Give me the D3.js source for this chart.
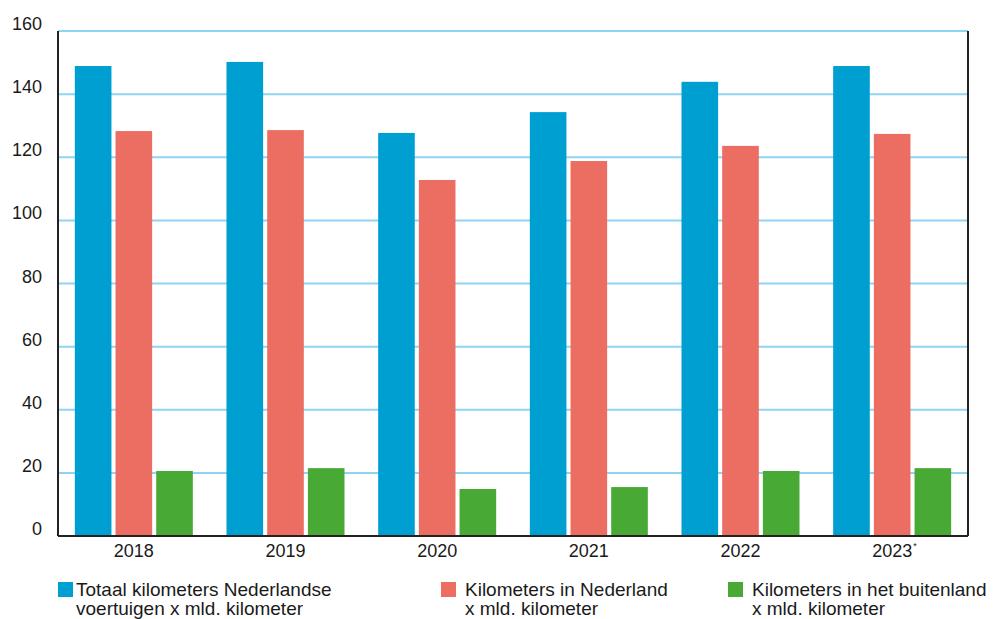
<!DOCTYPE html>
<html>
<head>
<meta charset="utf-8">
<script src="https://cdn.jsdelivr.net/npm/d3@7"></script>
<style>
  body { margin: 0; background: #fff; }
  text { font-family: "Liberation Sans", Arial, sans-serif; fill: #1a1a1a; }
</style>
</head>
<body>
<div id="chartDiv"></div>
<script>
// data
var years = ["2018", "2019", "2020", "2021", "2022", "2023"];
var totaal = [148.9, 150.2, 127.7, 134.3, 143.9, 148.9];
var inNederland = [128.3, 128.6, 112.8, 118.8, 123.6, 127.4];
var buitenland = [20.6, 21.5, 14.9, 15.5, 20.6, 21.5];
var yTicks = [0, 20, 40, 60, 80, 100, 120, 140, 160];
var seriesNames = ["totaal", "nl", "buiten"];
var legendLines = [
    ["Totaal kilometers Nederlandse", "voertuigen x mld. kilometer"],
    ["Kilometers in Nederland", "x mld. kilometer"],
    ["Kilometers in het buitenland", "x mld. kilometer"]
];

var width = 1000, height = 619;
var margin = {top: 31, right: 32, bottom: 83, left: 58};
var colors = {totaal: "#009fd1", nl: "#ec6d61", buiten: "#48aa35"};

var svg = d3.select("#chartDiv").append("svg")
    .attr("width", width)
    .attr("height", height);

var x0 = d3.scaleBand()
    .domain(years)
    .range([margin.left, width - margin.right]);

var groupWidth = 118;
var x1 = d3.scaleBand()
    .domain(seriesNames)
    .range([0, groupWidth])
    .paddingInner(0.1);

var y = d3.scaleLinear()
    .domain([0, 160])
    .range([height - margin.bottom, margin.top]);

// gridlines
svg.append("g")
    .selectAll("line")
    .data(yTicks.filter(d => d > 0))
    .enter().append("line")
    .attr("x1", margin.left)
    .attr("x2", width - margin.right)
    .attr("y1", d => y(d))
    .attr("y2", d => y(d))
    .attr("stroke", "#8fd4f3")
    .attr("stroke-width", 2);

// bars
var rows = years.map((yr, i) => ({year: yr, values: [
    {key: "totaal", value: totaal[i]},
    {key: "nl", value: inNederland[i]},
    {key: "buiten", value: buitenland[i]}
]}));

var groups = svg.append("g")
    .selectAll("g")
    .data(rows)
    .enter().append("g")
    .attr("transform", d => `translate(${x0(d.year) + (x0.bandwidth() - groupWidth) / 2},0)`);

groups.selectAll("rect")
    .data(d => d.values)
    .enter().append("rect")
    .attr("x", d => x1(d.key))
    .attr("width", x1.bandwidth())
    .attr("y", d => y(d.value))
    .attr("height", d => y(0) - y(d.value))
    .attr("fill", d => colors[d.key]);

// frame lines
svg.append("line")
    .attr("x1", margin.left).attr("x2", margin.left)
    .attr("y1", margin.top).attr("y2", y(0))
    .attr("stroke", "#222").attr("stroke-width", 2);
svg.append("line")
    .attr("x1", width - margin.right).attr("x2", width - margin.right)
    .attr("y1", margin.top).attr("y2", y(0))
    .attr("stroke", "#222").attr("stroke-width", 2);
svg.append("line")
    .attr("x1", margin.left).attr("x2", width - margin.right)
    .attr("y1", y(0)).attr("y2", y(0))
    .attr("stroke", "#222").attr("stroke-width", 2);

// y tick labels
svg.append("g")
    .selectAll("text")
    .data(yTicks)
    .enter().append("text")
    .attr("x", 42)
    .attr("y", d => y(d) - 1)
    .style("text-anchor", "end")
    .style("font-size", "18px")
    .text(d => d);

// x labels
var xl = svg.append("g")
    .selectAll("text")
    .data(years)
    .enter().append("text")
    .attr("x", d => x0(d) + x0.bandwidth() / 2)
    .attr("y", 557)
    .style("text-anchor", "middle")
    .style("font-size", "18px")
    .text(d => d);

// asterisk after 2023 (voorlopig)
xl.filter(d => d === "2023").each(function(d) {
    var w = this.getComputedTextLength();
    svg.append("text")
        .attr("x", x0(d) + x0.bandwidth() / 2 + w / 2 + 1)
        .attr("y", 549)
        .style("font-size", "9px")
        .text("*");
});

// legend
var legendX = [58, 441, 728];
var legendTextX = [18, 24, 24];
var legend = svg.append("g")
    .selectAll("g")
    .data(seriesNames)
    .enter().append("g")
    .attr("transform", (d, i) => `translate(${legendX[i]},0)`);

legend.append("rect")
    .attr("x", 0).attr("y", 582)
    .attr("width", 15).attr("height", 15)
    .attr("fill", d => colors[d]);

legend.each(function(d, i) {
    var t = d3.select(this).append("text")
        .attr("x", legendTextX[i])
        .attr("y", 596)
        .style("font-size", "19px");
    legendLines[i].forEach((line, j) => {
        t.append("tspan").attr("x", legendTextX[i]).attr("dy", j === 0 ? 0 : 19).text(line);
    });
});
</script>
</body>
</html>
